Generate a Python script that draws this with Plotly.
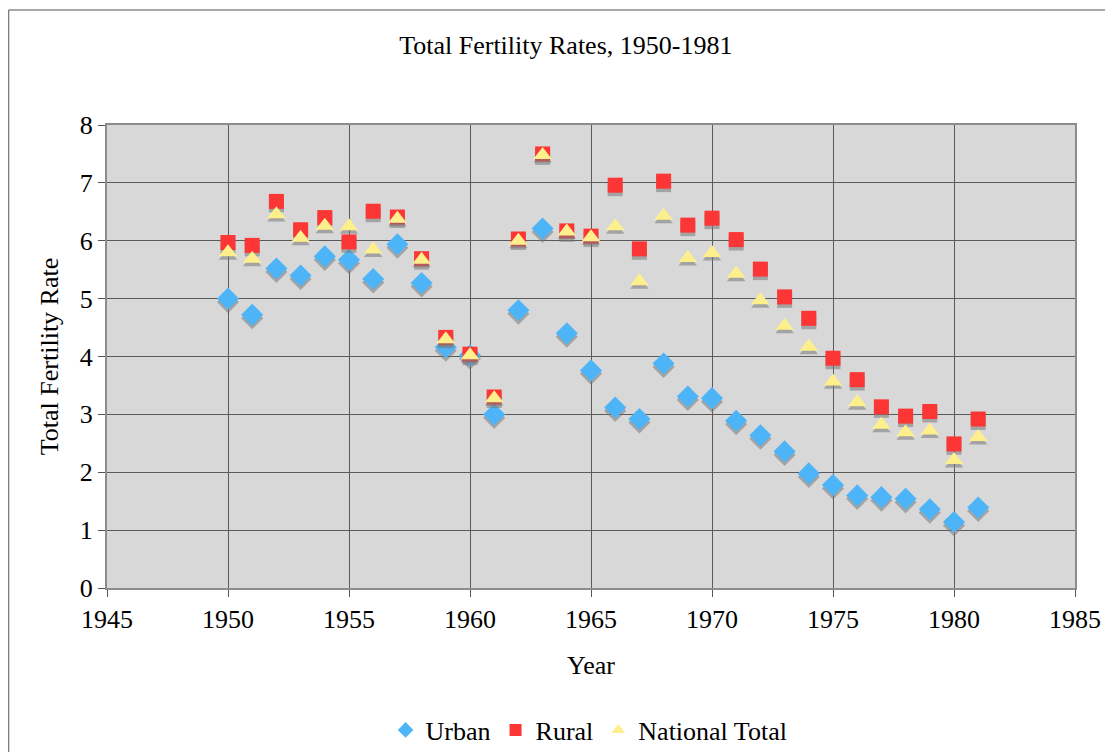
import plotly.graph_objects as go

# Total fertility rates
years = list(range(1950, 1982))

urban = [5.00, 4.72, 5.52, 5.40, 5.73, 5.67, 5.34, 5.94, 5.27, 4.16,
         4.02, 3.00, 4.80, 6.21, 4.40, 3.76, 3.12, 2.92, 3.88, 3.31,
         3.28, 2.89, 2.64, 2.36, 1.98, 1.78, 1.60, 1.57, 1.54, 1.36,
         1.14, 1.39]
rural = [5.97, 5.92, 6.68, 6.19, 6.40, 5.98, 6.51, 6.41, 5.69, 4.33,
         4.04, 3.30, 6.03, 7.50, 6.17, 6.08, 6.96, 5.86, 7.03, 6.27,
         6.39, 6.02, 5.51, 5.03, 4.66, 3.97, 3.60, 3.13, 2.97, 3.05,
         2.49, 2.92]
national = [5.80, 5.69, 6.46, 6.05, 6.26, 6.25, 5.85, 6.38, 5.67, 4.30,
            4.02, 3.28, 6.00, 7.48, 6.16, 6.06, 6.25, 5.30, 6.43, 5.70,
            5.79, 5.43, 4.97, 4.53, 4.17, 3.57, 3.21, 2.82, 2.69, 2.72,
            2.21, 2.61]

series = [
    ("Urban", urban, "diamond", "#4db5f7", 17),
    ("Rural", rural, "square", "#fc3535", 15),
    ("National Total", national, "triangle-up", "#fdf08c", 16),
]

SERIF = "Liberation Serif"
shadow_dy = 0.06

fig = go.Figure()

for name, vals, symbol, color, size in series:
    # soft grey drop shadow under each marker
    fig.add_trace(go.Scatter(
        x=years, y=[v - shadow_dy for v in vals], mode="markers",
        marker=dict(symbol=symbol, size=size, color="rgba(120,120,120,0.55)",
                    line=dict(width=0)),
        showlegend=False, hoverinfo="skip"))
    fig.add_trace(go.Scatter(
        x=years, y=vals, mode="markers", name=name,
        marker=dict(symbol=symbol, size=size, color=color,
                    line=dict(width=0))))

# the page body adds an 8px margin, so the figure is sized to fit inside it
fig.update_layout(
    width=1105, height=744,
    margin=dict(l=99, r=36, t=117, b=164),
    paper_bgcolor="white",
    plot_bgcolor="#d8d8d8",
    font=dict(family=SERIF, color="black", size=26),
    title=dict(text="Total Fertility Rates, 1950-1981", x=0.474, xref="paper",
               xanchor="center", y=0.9503, yref="container", yanchor="middle",
               font=dict(family=SERIF, size=26)),
    legend=dict(orientation="h", x=0.498, xanchor="center",
                y=0.0296, yref="container", yanchor="middle",
                font=dict(family=SERIF, size=26),
                itemsizing="constant", itemwidth=30, tracegroupgap=0),
    showlegend=True,
)

fig.update_xaxes(
    range=[1945, 1985], dtick=5, tick0=1945,
    showgrid=True, gridcolor="#5a5a5a", gridwidth=1,
    showline=True, linecolor="#8c8c8c", linewidth=2, mirror=True,
    ticks="outside", ticklen=7, tickcolor="#555",
    zeroline=False,
    tickfont=dict(family=SERIF, size=26),
    title=dict(text="Year", font=dict(family=SERIF, size=26), standoff=23),
)
fig.update_yaxes(
    range=[0, 8], dtick=1,
    showgrid=True, gridcolor="#5a5a5a", gridwidth=1,
    showline=True, linecolor="#8c8c8c", linewidth=2, mirror=True,
    ticks="outside", ticklen=7, tickcolor="#555",
    zeroline=False,
    tickfont=dict(family=SERIF, size=26),
    title=dict(text="Total Fertility Rate", font=dict(family=SERIF, size=26),
               standoff=14),
)

# thin frame around the chart area (top and left edges visible)
fig.add_shape(type="rect", xref="paper", yref="paper",
              x0=-0.1015, x1=1.06, y0=-0.45, y1=1.2484,
              line=dict(color="#555", width=1), layer="below")

fig.write_html("out.html")
